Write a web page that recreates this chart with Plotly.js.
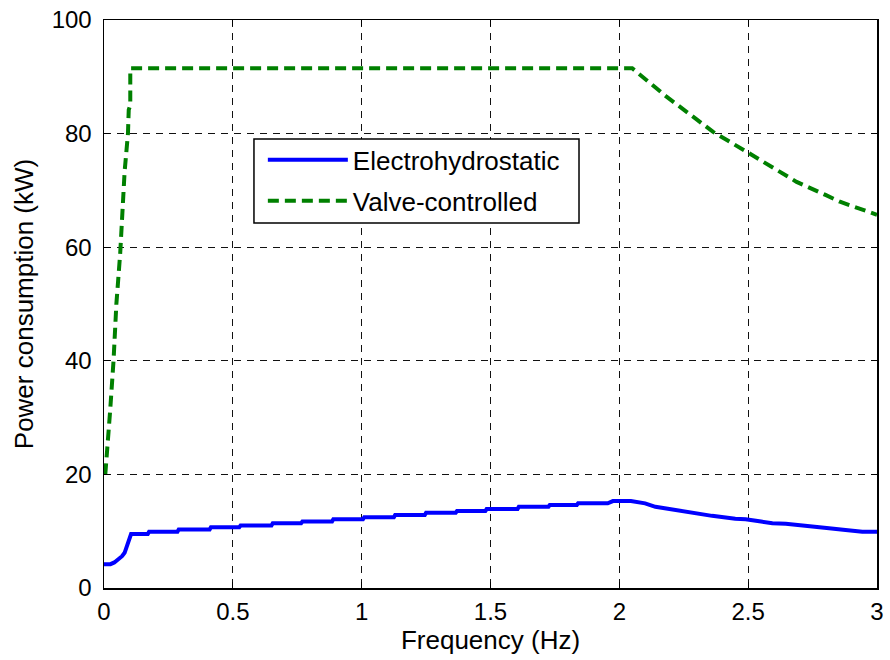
<!DOCTYPE html>
<html>
<head>
<meta charset="utf-8">
<script src="https://cdn.plot.ly/plotly-3.0.1.min.js"></script>
<style>
html,body{margin:0;padding:0;background:#fff;}
#chart{width:890px;height:660px;}
</style>
</head>
<body>
<div id="chart"></div>
<script>
// Electrohydrostatic power consumption (kW) vs frequency (Hz)
const ehFreq = [0, 0.025, 0.04, 0.055, 0.07, 0.08, 0.088, 0.095, 0.1, 0.105, 0.17, 0.175, 0.285, 0.29, 0.41, 0.415, 0.525, 0.53, 0.65, 0.655, 0.765, 0.77, 0.885, 0.89, 1.005, 1.01, 1.125, 1.13, 1.245, 1.25, 1.365, 1.37, 1.48, 1.485, 1.605, 1.61, 1.725, 1.73, 1.835, 1.84, 1.955, 1.975, 2.045, 2.1, 2.14, 2.23, 2.36, 2.45, 2.49, 2.55, 2.594, 2.646, 2.7, 2.749, 2.814, 2.878, 2.943, 3.0];
const ehPower = [4.2, 4.2, 4.5, 5.0, 5.6, 6.2, 7.3, 8.0, 8.6, 9.5, 9.5, 9.9, 9.9, 10.3, 10.3, 10.7, 10.7, 11.0, 11.0, 11.4, 11.4, 11.7, 11.7, 12.1, 12.1, 12.45, 12.45, 12.85, 12.85, 13.25, 13.25, 13.55, 13.55, 13.9, 13.9, 14.3, 14.3, 14.6, 14.6, 14.9, 14.9, 15.3, 15.3, 14.9, 14.3, 13.6, 12.7, 12.2, 12.1, 11.7, 11.4, 11.3, 11.0, 10.7, 10.5, 10.2, 9.9, 9.9];

// Valve-controlled power consumption (kW) vs frequency (Hz)
const vcFreq = [0.005, 0.015, 0.024, 0.037, 0.048, 0.063, 0.07, 0.08, 0.093, 0.096, 0.102, 0.102, 2.05, 2.1, 2.183, 2.3, 2.364, 2.494, 2.6, 2.688, 2.8, 2.856, 3.0];
const vcPower = [20, 25, 31.3, 40, 50, 59, 66.5, 73.3, 80, 84.2, 85, 91.5, 91.5, 89.6, 86.5, 82.5, 80.3, 76.8, 74.0, 71.5, 69.2, 68.0, 65.7];

const seriesNames = ['Electrohydrostatic', 'Valve-controlled'];
const xTicks = [0, 0.5, 1, 1.5, 2, 2.5, 3];
const yTicks = [0, 20, 40, 60, 80, 100];

const FONT = 'Liberation Sans, Arial, sans-serif';

const traces = [
  {x: ehFreq, y: ehPower, name: seriesNames[0], mode: 'lines', legendgroup: 'a',
   line: {color: '#0000ff', width: 4}},
  {x: vcFreq, y: vcPower, name: seriesNames[1], mode: 'lines', legendgroup: 'b',
   line: {color: '#008000', width: 4, dash: '11px,6px'}}
];

const axisCommon = {
  showline: true, linecolor: '#000', linewidth: 1.5, mirror: 'ticks',
  ticks: 'inside', ticklen: 6, tickcolor: '#000', tickwidth: 1,
  showgrid: true, gridcolor: '#111', gridwidth: 1, griddash: '7px,6px',
  zeroline: false, tickfont: {family: FONT, size: 24, color: '#000'}
};

const layout = {
  width: 890, height: 660,
  margin: {l: 104, r: 13, t: 20, b: 72},
  paper_bgcolor: '#fff', plot_bgcolor: '#fff',
  font: {family: FONT, size: 24, color: '#000'},
  showlegend: true,
  xaxis: Object.assign({}, axisCommon, {
    range: [0, 3], tickvals: xTicks, ticktext: xTicks.map(String),
    ticklabelstandoff: 2,
    title: {text: 'Frequency (Hz)', font: {family: FONT, size: 26, color: '#000'}, standoff: 4}
  }),
  yaxis: Object.assign({}, axisCommon, {
    range: [0, 100], tickvals: yTicks, ticktext: yTicks.map(String),
    ticklabelstandoff: 6,
    title: {text: 'Power consumption (kW)', font: {family: FONT, size: 26, color: '#000'}, standoff: 10}
  }),
  legend: {
    x: 0.2055, y: 0.795, xanchor: 'left', yanchor: 'top',
    bgcolor: 'rgba(0,0,0,0)', borderwidth: 0,
    font: {family: FONT, size: 26, color: '#000'},
    itemwidth: 80, tracegroupgap: 4
  },
  shapes: [{
    type: 'rect', xref: 'paper', yref: 'paper',
    x0: 0.194, x1: 0.6145, y0: 0.6426, y1: 0.7905,
    line: {color: '#000', width: 1.5}, fillcolor: '#fff', layer: 'above'
  }]
};

Plotly.newPlot('chart', traces, layout, {displayModeBar: false, staticPlot: true});
</script>
</body>
</html>
